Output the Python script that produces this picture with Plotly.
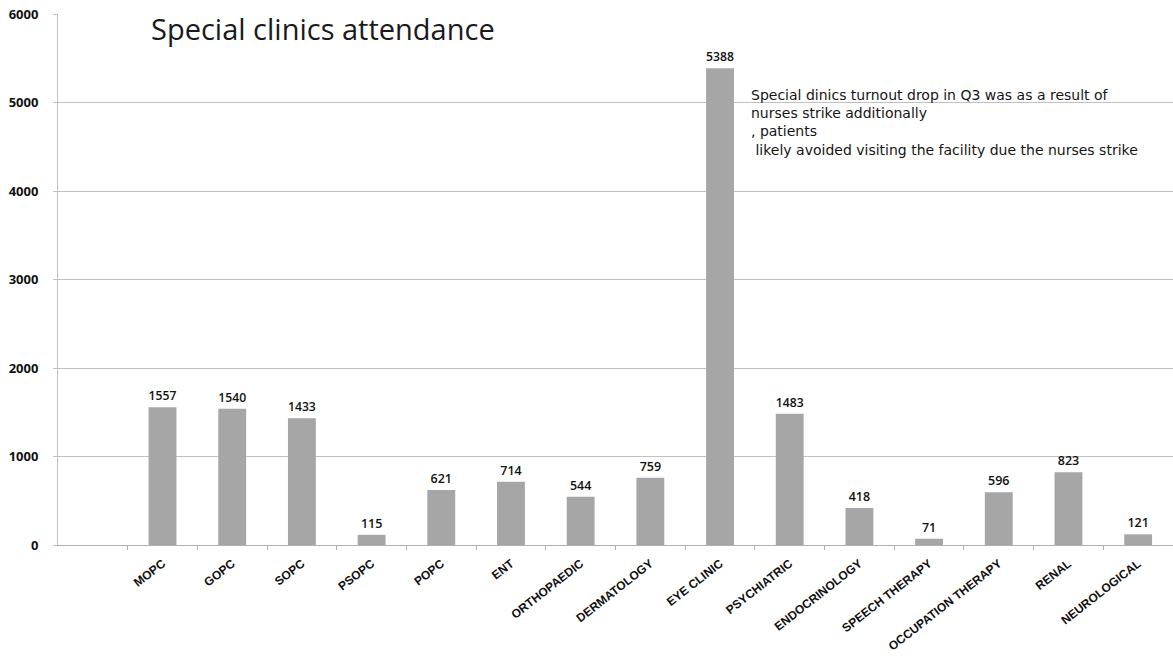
import plotly.graph_objects as go

# Attendance per special clinic
clinics = ["MOPC", "GOPC", "SOPC", "PSOPC", "POPC", "ENT", "ORTHOPAEDIC",
           "DERMATOLOGY", "EYE CLINIC", "PSYCHIATRIC", "ENDOCRINOLOGY",
           "SPEECH THERAPY", "OCCUPATION THERAPY", "RENAL", "NEUROLOGICAL"]
attendance = [1557, 1540, 1433, 115, 621, 714, 544, 759, 5388, 1483, 418,
              71, 596, 823, 121]
y_ticks = [0, 1000, 2000, 3000, 4000, 5000, 6000]

title_text = "Special clinics attendance"
note_text = ("Special dinics turnout drop in Q3 was as a result of<br>"
             "nurses strike additionally<br>"
             ", patients<br>"
             " likely avoided visiting the facility due the nurses strike")

fig = go.Figure()
fig.add_trace(go.Bar(
    x=clinics,
    y=attendance,
    width=0.4,
    marker=dict(color="#a6a6a6", line=dict(width=0)),
    text=[str(v) for v in attendance],
    textposition="outside",
    cliponaxis=False,
    textfont=dict(family="Open Sans, Liberation Sans, sans-serif", size=12.5,
                  color="#111111", weight=600),
))

fig.update_layout(
    width=1173, height=659,
    margin=dict(l=58, r=0, t=14, b=114),
    paper_bgcolor="white",
    plot_bgcolor="white",
    showlegend=False,
    annotations=[
        dict(text=title_text, xref="paper", yref="paper", x=0.082, y=0.972,
             xanchor="left", yanchor="middle", showarrow=False,
             font=dict(family="Open Sans, Lato, sans-serif", size=29, color="#1a1a1a")),
        dict(text=note_text, xref="paper", yref="y", x=0.62, y=5200,
             xanchor="left", yanchor="top", align="left", showarrow=False,
             font=dict(family="DejaVu Sans, Open Sans, sans-serif", size=14,
                       color="#151515")),
    ],
)

fig.update_xaxes(
    type="category",
    range=[-1.5, 14.5],
    tickangle=-38,
    tickfont=dict(family="Liberation Sans, sans-serif", size=12,
                  color="#111111", weight="bold"),
    ticklabelstandoff=6,
    showgrid=False,
    showline=True, linecolor="#b0b0b0", linewidth=1,
    ticks="outside", tickson="boundaries", ticklen=4, tickcolor="#b0b0b0",
)
fig.update_yaxes(
    range=[0, 6000],
    tickvals=y_ticks,
    ticktext=[str(v) for v in y_ticks],
    tickfont=dict(family="Open Sans, Liberation Sans, sans-serif", size=13,
                  color="#111111", weight="bold"),
    ticklabelstandoff=12,
    showgrid=True, gridcolor="#c0c0c0", gridwidth=1,
    showline=True, linecolor="#c0c0c0", linewidth=1,
    ticks="outside", ticklen=4, tickcolor="#c0c0c0",
    zeroline=False,
)

fig.write_html("out.html")
